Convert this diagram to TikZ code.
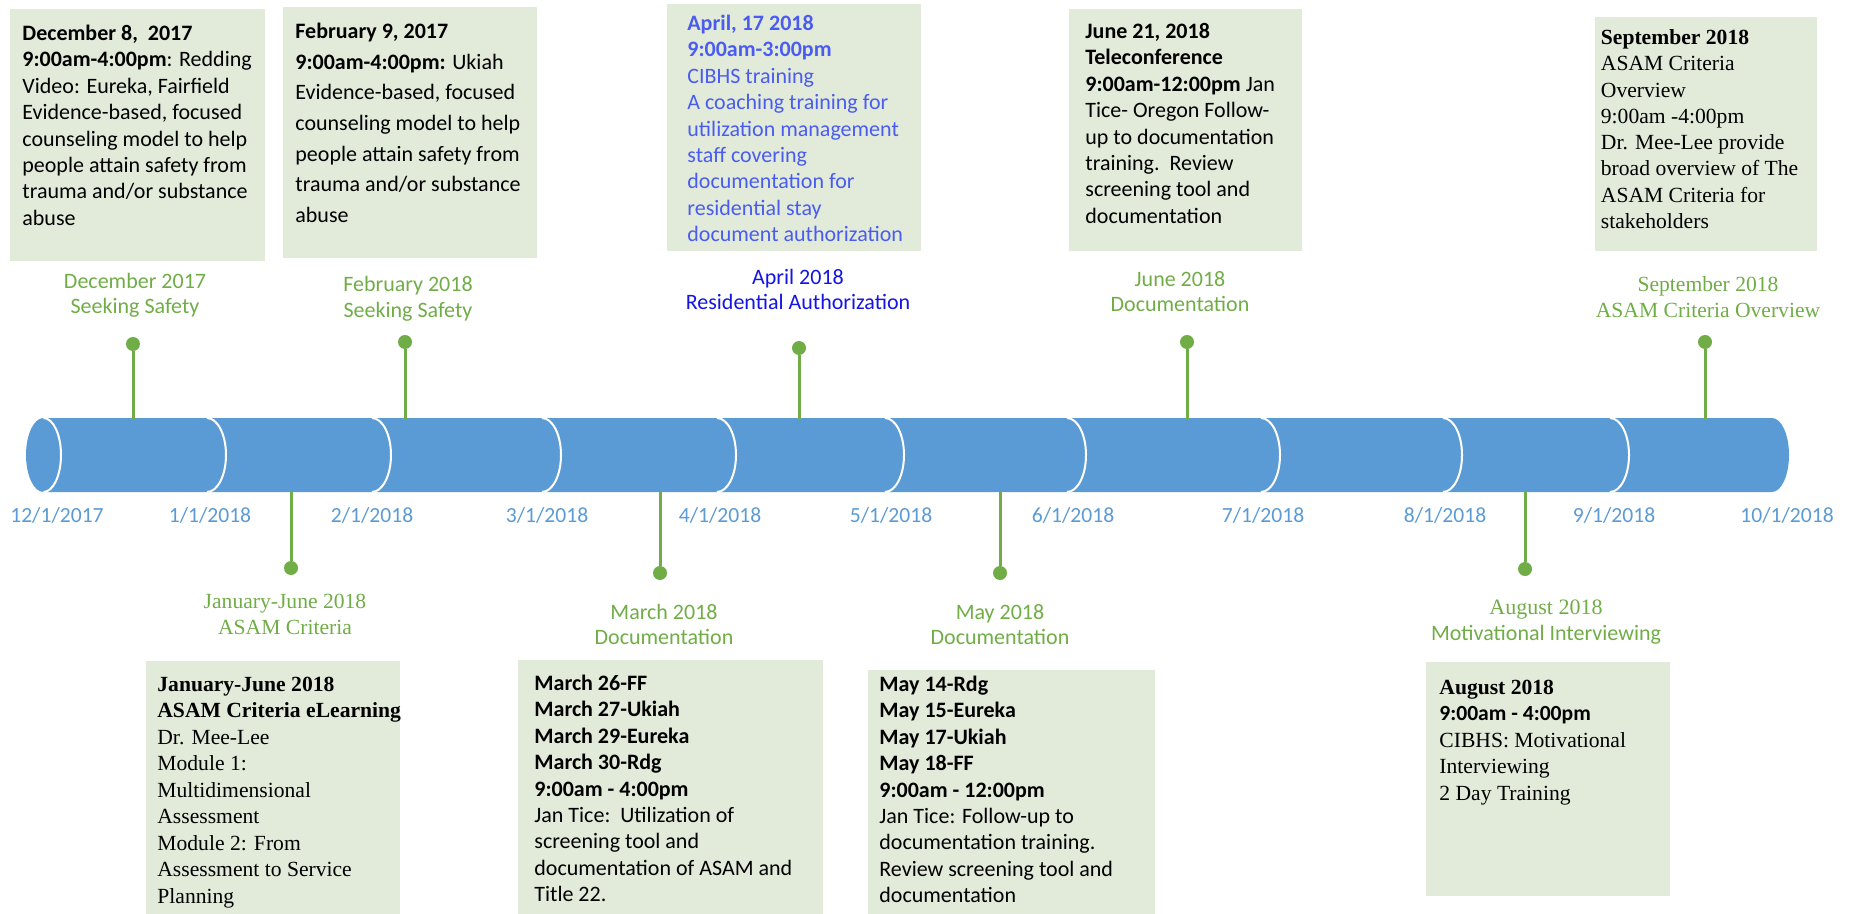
\documentclass[tikz,border=0pt]{standalone}
\usepackage{fontspec}
\setmainfont{Carlito}
\newfontfamily\serf{Liberation Serif}
\usetikzlibrary{positioning}
\definecolor{barblue}{HTML}{5B9BD5}
\definecolor{evgreen}{HTML}{70AD47}
\definecolor{boxfill}{HTML}{E2EBDA}
\definecolor{aprblue}{HTML}{4A5CF0}
\definecolor{aprlabel}{HTML}{1414E6}
\hbadness=10000 \hfuzz=400pt
\newcommand{\evtxt}[4]{\parbox[t][#2][t]{#1}{\vspace*{#3}\begin{tabular}[t]{@{}l@{}}#4\end{tabular}}}

\begin{document}
\begin{tikzpicture}[x=0.5pt,y=-0.5pt,
  evbox/.style={fill=boxfill,anchor=north west,inner ysep=0pt,font=\fontsize{11}{13.2}\selectfont},
  lbl/.style={text=evgreen,align=center,font=\fontsize{11}{12.75}\selectfont},
  serlbl/.style={lbl,font=\serf\fontsize{10.8}{12.75}\selectfont},
  datelbl/.style={text=barblue,font=\fontsize{10.8}{13}\selectfont},
  dot/.style={circle,fill=evgreen,inner sep=0pt,minimum size=7pt},
  stem/.style={evgreen,line width=1.5pt},
  divline/.style={white,line width=1pt}]
\useasboundingbox (0,0) rectangle (1851,914);

% the bar
\fill[barblue] (43.5,418) -- (1772,418) arc[start angle=90,end angle=-90,x radius=8.5pt,y radius=18.5pt]
  -- (43.5,492) arc[start angle=270,end angle=90,x radius=8.75pt,y radius=18.5pt] -- cycle;
\draw[divline] (43.5,418) arc[start angle=90,end angle=-90,x radius=8.75pt,y radius=18.5pt];
\foreach \x in {207,372,542,717,885,1067,1261,1443,1610}
  \draw[divline] (\x,418) arc[start angle=90,end angle=-90,x radius=9.5pt,y radius=18.5pt];

\foreach \x/\d in {57/{12/1/2017},210/{1/1/2018},372/{2/1/2018},547/{3/1/2018},720/{4/1/2018},
    891/{5/1/2018},1073/{6/1/2018},1263/{7/1/2018},1445/{8/1/2018},1614/{9/1/2018},1787/{10/1/2018}}
  \node[datelbl] (dt\x) at (\x,515) {\d};

% stems
\foreach \n/\x/\y in {Dec/133/344,Feb/405/342,Apr/799/348,Jun/1187/342,Sep/1705/342}{
  \node[dot] (d\n) at (\x,\y) {};
  \coordinate (c\n) at (\x,419);
  \draw[stem] (d\n) -- (c\n);
}
\foreach \n/\x/\y in {Jan/291/568,Mar/660/573,May/1000/573,Aug/1525/569}{
  \node[dot] (d\n) at (\x,\y) {};
  \coordinate (c\n) at (\x,491);
  \draw[stem] (c\n) -- (d\n);
}

\node[lbl] (lDec) at (135,295.5) {December 2017\\Seeking Safety};
\node[lbl] (lFeb) at (408,299) {February 2018\\Seeking Safety};
\node[lbl,text=aprlabel] (lApr) at (798,289.5) {April 2018\\Residential Authorization};
\node[lbl] (lJun) at (1180,291.5) {June 2018\\Documentation};
\node[serlbl] (lSep) at (1708,297) {September 2018\\ASAM Criteria Overview};
\node[serlbl] (lJan) at (285,614.5) {January-June 2018\\ASAM Criteria};
\node[lbl] (lMar) at (664,624.5) {March 2018\\Documentation};
\node[lbl] (lMay) at (1000,624.5) {May 2018\\Documentation};
\node[lbl] (lAug) at (1546,622) {{\serf August 2018}\\Motivational Interviewing};

% boxes
\node[evbox,inner xsep=6pt] (bDec) at (10,9) {\evtxt{115.5pt}{126pt}{6.3pt}{%
  \textbf{December 8,\ \ 2017}\\\textbf{9:00am-4:00pm}: Redding\\Video: Eureka, Fairfield\\
  Evidence-based, focused\\counseling model to help\\people attain safety from\\
  trauma and/or substance\\abuse}};
\node[evbox,inner xsep=6pt,font=\fontsize{11}{15.35}\selectfont] (bFeb) at (283,7) {\evtxt{115pt}{125.5pt}{4.75pt}{%
  \textbf{February 9, 2017}\\\textbf{9:00am-4:00pm:} Ukiah\\Evidence-based, focused\\
  counseling model to help\\people attain safety from\\trauma and/or substance\\abuse}};
\node[evbox,inner xsep=10pt,text=aprblue] (bApr) at (667,4) {\evtxt{106.75pt}{123.5pt}{3.8pt}{%
  \textbf{April, 17 2018}\\\textbf{9:00am-3:00pm}\\CIBHS training\\A coaching training for\\
  utilization management\\staff covering\\documentation for\\residential stay\\document authorization}};
\node[evbox,inner xsep=8pt] (bJun) at (1069,9) {\evtxt{100.5pt}{121pt}{5.3pt}{%
  \textbf{June 21, 2018}\\\textbf{Teleconference}\\\textbf{9:00am-12:00pm} Jan\\Tice- Oregon Follow-\\
  up to documentation\\training.\ \ Review\\screening tool and\\documentation}};
\node[evbox,inner xsep=2.75pt,font=\serf\fontsize{10.8}{13.15}\selectfont] (bSep) at (1595,17) {\evtxt{105.5pt}{117pt}{4.3pt}{%
  \textbf{September 2018}\\ASAM Criteria\\Overview\\9:00am -4:00pm\\Dr. Mee-Lee provide\\
  broad overview of The\\ASAM Criteria for\\stakeholders}};
\node[evbox,inner xsep=5.5pt,font=\serf\fontsize{10.8}{13.25}\selectfont] (bJan) at (146,661) {\evtxt{116pt}{126.5pt}{5.7pt}{%
  \textbf{January-June 2018}\\\textbf{ASAM Criteria eLearning}\\Dr. Mee-Lee\\Module 1:\\
  Multidimensional\\Assessment\\Module 2: From\\Assessment to Service\\Planning}};
\node[evbox,inner xsep=8pt] (bMar) at (518,660) {\evtxt{136.5pt}{127pt}{5.8pt}{%
  \textbf{March 26-FF}\\\textbf{March 27-Ukiah}\\\textbf{March 29-Eureka}\\\textbf{March 30-Rdg}\\
  \textbf{9:00am - 4:00pm}\\Jan Tice:\ \ Utilization of\\screening tool and\\
  documentation of ASAM and\\Title 22.}};
\node[evbox,inner xsep=5.5pt] (bMay) at (868,670) {\evtxt{132.5pt}{122pt}{1.3pt}{%
  \textbf{May 14-Rdg}\\\textbf{May 15-Eureka}\\\textbf{May 17-Ukiah}\\\textbf{May 18-FF}\\
  \textbf{9:00am - 12:00pm}\\Jan Tice: Follow-up to\\documentation training.\\
  Review screening tool and\\documentation}};
\node[evbox,inner xsep=6.5pt,font=\serf\fontsize{10.8}{13.2}\selectfont] (bAug) at (1426,662) {\evtxt{109pt}{117pt}{6.8pt}{%
  \textbf{August 2018}\\{\rmfamily\textbf{9:00am - 4:00pm}}\\CIBHS: Motivational\\
  Interviewing\\2 Day Training}};
\end{tikzpicture}
\end{document}
